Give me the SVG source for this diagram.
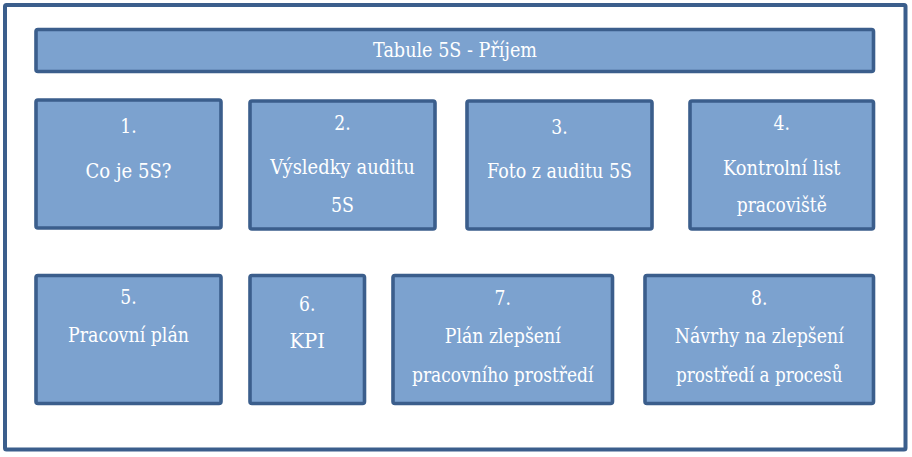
<svg xmlns="http://www.w3.org/2000/svg" width="912" height="457" viewBox="0 0 912 457">
<style>
.frame{fill:#ffffff;stroke:#3b5e8c;stroke-width:4}
.box{fill:#7ca2cf;stroke:#3b5e8c;stroke-width:3.6}
.t{font-family:'DejaVu Serif','Liberation Serif',serif;font-size:19.6px;fill:#ffffff;text-anchor:middle}
</style>
<rect width="912" height="457" fill="#ffffff"/>
<rect id="frame" class="frame" x="5" y="5" width="900.5" height="444.5" rx="1.5"/>
<g id="title">
<rect class="box" x="36" y="29.5" width="837.5" height="42" rx="2"/>
<text class="t" x="455" y="57" textLength="164" lengthAdjust="spacingAndGlyphs">Tabule 5S - Příjem</text>
</g>
<g id="n1">
<rect class="box" x="36" y="100" width="185" height="128" rx="2"/>
<text class="t" x="128.5" y="133" textLength="16.4" lengthAdjust="spacingAndGlyphs">1.</text>
<text class="t" x="128.5" y="178" textLength="86" lengthAdjust="spacingAndGlyphs">Co je 5S?</text>
</g>
<g id="n2">
<rect class="box" x="250" y="101" width="185" height="128" rx="2"/>
<text class="t" x="342.5" y="130" textLength="16.4" lengthAdjust="spacingAndGlyphs">2.</text>
<text class="t" x="342.5" y="174" textLength="144.5" lengthAdjust="spacingAndGlyphs">Výsledky auditu</text>
<text class="t" x="342.5" y="212" textLength="23" lengthAdjust="spacingAndGlyphs">5S</text>
</g>
<g id="n3">
<rect class="box" x="467" y="101" width="185" height="128" rx="2"/>
<text class="t" x="559.5" y="134" textLength="16.4" lengthAdjust="spacingAndGlyphs">3.</text>
<text class="t" x="559.5" y="178" textLength="145" lengthAdjust="spacingAndGlyphs">Foto z auditu 5S</text>
</g>
<g id="n4">
<rect class="box" x="690" y="101" width="183.5" height="128" rx="2"/>
<text class="t" x="781.75" y="130" textLength="16.4" lengthAdjust="spacingAndGlyphs">4.</text>
<text class="t" x="781.75" y="175" textLength="117.5" lengthAdjust="spacingAndGlyphs">Kontrolní list</text>
<text class="t" x="781.75" y="212" textLength="90" lengthAdjust="spacingAndGlyphs">pracoviště</text>
</g>
<g id="n5">
<rect class="box" x="36" y="275.5" width="185" height="128" rx="2"/>
<text class="t" x="128.5" y="304" textLength="16.4" lengthAdjust="spacingAndGlyphs">5.</text>
<text class="t" x="128.5" y="342" textLength="121" lengthAdjust="spacingAndGlyphs">Pracovní plán</text>
</g>
<g id="n6">
<rect class="box" x="250" y="275.5" width="114.5" height="128" rx="2"/>
<text class="t" x="307.25" y="311" textLength="16.4" lengthAdjust="spacingAndGlyphs">6.</text>
<text class="t" x="307.25" y="348" textLength="35.5" lengthAdjust="spacingAndGlyphs">KPI</text>
</g>
<g id="n7">
<rect class="box" x="393" y="275.5" width="219.5" height="128" rx="2"/>
<text class="t" x="502.75" y="304.5" textLength="16.4" lengthAdjust="spacingAndGlyphs">7.</text>
<text class="t" x="502.75" y="343" textLength="116" lengthAdjust="spacingAndGlyphs">Plán zlepšení</text>
<text class="t" x="502.75" y="381.5" textLength="181.5" lengthAdjust="spacingAndGlyphs">pracovního prostředí</text>
</g>
<g id="n8">
<rect class="box" x="645" y="275.5" width="228.5" height="128" rx="2"/>
<text class="t" x="759.25" y="304.5" textLength="16.4" lengthAdjust="spacingAndGlyphs">8.</text>
<text class="t" x="759.25" y="343" textLength="169" lengthAdjust="spacingAndGlyphs">Návrhy na zlepšení</text>
<text class="t" x="759.25" y="381.5" textLength="166.5" lengthAdjust="spacingAndGlyphs">prostředí a procesů</text>
</g>
<g id="connectors"></g>
</svg>
